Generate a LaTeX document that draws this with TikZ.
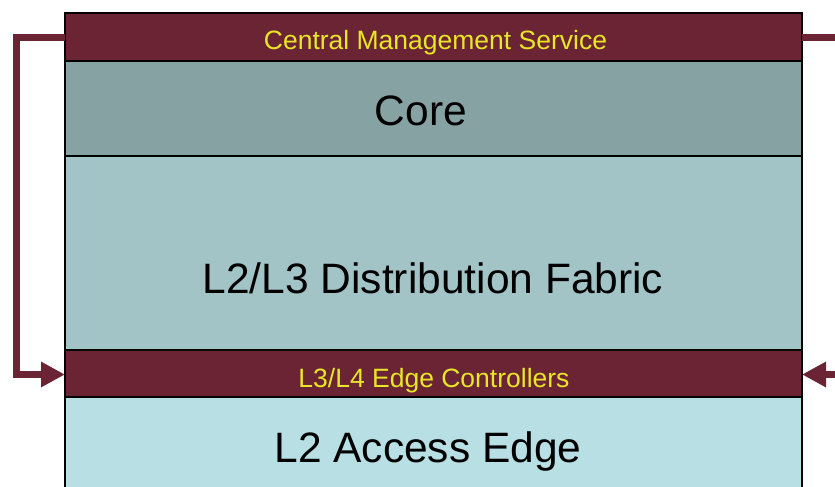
\documentclass[tikz,border=0pt]{standalone}
\usepackage{fontspec}
\setmainfont{Liberation Sans}
\usetikzlibrary{arrows.meta}
\definecolor{maroon}{RGB}{107,36,52}
\definecolor{corec}{RGB}{135,162,162}
\definecolor{distc}{RGB}{162,196,198}
\definecolor{accc}{RGB}{184,224,228}
\definecolor{txty}{RGB}{232,230,40}
\tikzset{
  layer/.style={draw=black, line width=1.5pt, rectangle, anchor=north west, inner sep=0pt, outer sep=0pt, minimum width=737pt},
  band/.style={layer, fill=maroon, line width=2.5pt},
  bigtxt/.style={font=\fontsize{42.5}{46}\selectfont, inner sep=0pt},
  smalltxt/.style={font=\fontsize{26.5}{30}\selectfont, text=txty, inner sep=0pt},
  conn/.style={draw=maroon, line width=7pt, line join=miter},
  arr/.style={conn, -{Triangle[length=24pt,width=24pt]}}
}
\begin{document}
\begin{tikzpicture}[x=1pt,y=-1pt]
\useasboundingbox (0,0) rectangle (835,487);
\clip (0,0) rectangle (835,487);
\fill[white] (0,0) rectangle (835,487);
\node[layer, fill=accc, minimum height=130pt] (acc) at (65,397) {};
\node[layer, fill=distc, minimum height=194pt] (dist) at (65,156) {};
\node[layer, fill=corec, minimum height=95pt] (core) at (65,61) {};
\node[band, minimum height=48pt] (cms) at (65,13) {};
\node[band, minimum height=47pt] (edge) at (65,350) {};
\node[bigtxt, anchor=base] (acct) at (428,462) {L2 Access Edge};
\node[bigtxt, anchor=base] (distt) at (433,293) {L2/L3 Distribution Fabric};
\node[bigtxt, anchor=base] (coret) at (421,125) {Core};
\node[smalltxt, anchor=base] (cmst) at (435.5,50) {Central Management Service};
\node[smalltxt, anchor=base] (edget) at (434,387) {L3/L4 Edge Controllers};
\coordinate (lt) at (16.5,38);
\coordinate (lb) at (16.5,374.5);
\coordinate (rt) at (850,38);
\coordinate (rb) at (850,374.5);
\draw[arr] (cms.west |- lt) -- (lt) -- (lb) -- (edge.west |- lb);
\draw[arr] (cms.east |- rt) -- (rt) -- (rb) -- (edge.east |- rb);
\end{tikzpicture}
\end{document}
